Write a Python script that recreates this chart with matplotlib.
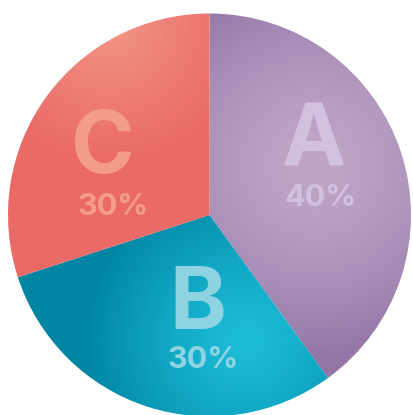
import numpy as np
import matplotlib.pyplot as plt
from matplotlib.colors import to_rgb

# Pie data
labels = ['A', 'B', 'C']
values = [40, 30, 30]
pct_labels = ['40%', '30%', '30%']

# Shading for each slice: light colour, dark colour, focus of the highlight, spread
light_colors = ['#bfa6c8', '#1cbcd8', '#f29a8a']
dark_colors = ['#9276a6', '#0086a3', '#ea6a67']
focus_points = [(0.52, 0.25), (0.18, -0.62), (-0.5, 0.95)]
spreads = [0.95, 0.8, 0.7]
exponents = [1.6, 1.3, 0.8]

text_colors = ['#d2c0e1', '#8ed3e1', '#f39c8c']
label_pos = [(0.52, 0.35), (-0.06, -0.455), (-0.53, 0.32)]
pct_pos = [(0.55, 0.085), (-0.03, -0.72), (-0.48, 0.04)]

fig = plt.figure(figsize=(4.13, 4.15), dpi=100)
ax = fig.add_axes([0, 0, 1, 1])

wedges, _ = ax.pie(values, startangle=90, counterclock=False, radius=1,
                   wedgeprops=dict(linewidth=0))

# radial gradient images clipped to each wedge
n = 500
xs = np.linspace(-1.05, 1.05, n)
X, Y = np.meshgrid(xs, xs)
for w, lc, dc, (fx, fy), s, e in zip(wedges, light_colors, dark_colors,
                                     focus_points, spreads, exponents):
    d = np.clip(np.hypot(X - fx, Y - fy) / s, 0, 1) ** e
    c1 = np.array(to_rgb(lc))
    c2 = np.array(to_rgb(dc))
    img = c1 + (c2 - c1) * d[..., None]
    w.set_facecolor('none')
    im = ax.imshow(img, extent=(-1.05, 1.05, -1.05, 1.05), origin='lower',
                   interpolation='bilinear', zorder=1)
    im.set_clip_path(w)

for lab, pct, tc, (lx, ly), (px, py) in zip(labels, pct_labels, text_colors, label_pos, pct_pos):
    ax.text(lx, ly, lab, color=tc, fontsize=62, fontweight='bold', family='Inter',
            ha='center', va='center', zorder=3)
    ax.text(px, py, pct, color=tc, fontsize=22, fontweight='bold', family='Inter',
            ha='center', va='center', zorder=3)

ax.set_xlim(-1.0397, 1.0099)
ax.set_ylim(-0.9926, 1.067)
ax.set_aspect('equal')
ax.axis('off')

fig.savefig('out.png', dpi=100)
